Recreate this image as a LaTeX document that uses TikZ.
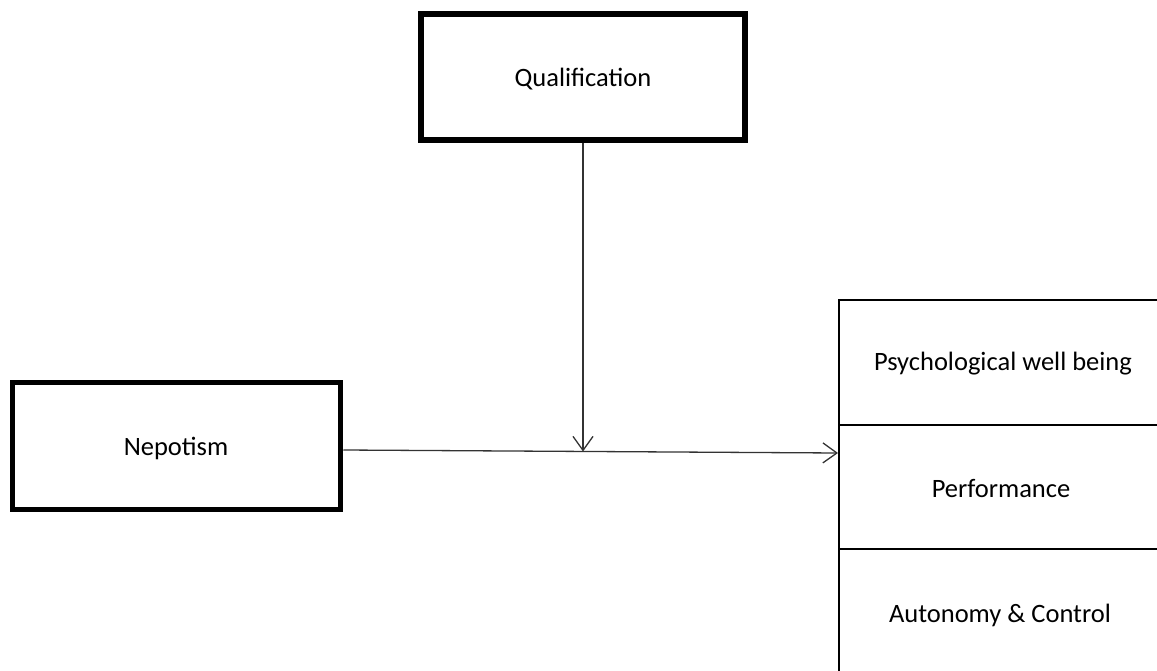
\documentclass[tikz,border=0pt]{standalone}
\usepackage{fontspec}
\setmainfont{Carlito}
\usetikzlibrary{arrows.meta}
\begin{document}
\begin{tikzpicture}[x=1pt,y=-1pt,
  lbl/.style={font=\fontsize{26.5}{30}\selectfont, text=black},
  thickbox/.style={draw=black, line width=5.5pt, fill=white, inner sep=0pt},
  thinbox/.style={draw=black, line width=2pt, inner sep=0pt, minimum width=326pt},
  conn/.style={draw=black!80, line width=1.3pt, -{Straight Barb[length=14pt,width=20pt,line width=1.3pt]}}]
\useasboundingbox (0,0) rectangle (1157,671);
\clip (0,0) rectangle (1157,671);
% Qualification box
\node[thickbox, lbl, minimum width=324pt, minimum height=126pt] (qual) at (583,77) {};
\node[lbl] (qualtxt) at (583,79) {Qualification};
% Nepotism box
\node[thickbox, lbl, minimum width=328pt, minimum height=127pt] (nep) at (176.5,446) {};
\node[lbl] (neptxt) at (176,448) {Nepotism};
% right stack
\node[thinbox, minimum height=125pt] (psybox) at (1002,362.5) {};
\node[thinbox, minimum height=124pt] (perfbox) at (1002,487) {};
\node[thinbox, minimum height=135pt] (autbox) at (1002,616.5) {};
\node[lbl] (psy) at (1003,364) {Psychological well being};
\node[lbl] (perf) at (1001,489) {Performance};
\node[lbl] (aut) at (1000,615) {Autonomy \& Control};
\coordinate (nr) at (nep.east |- 0,450);
\coordinate (target) at (perfbox.west |- 0,453);
\coordinate (meet) at (qual.south |- 0,451.5);
% connectors
\draw[conn] (qual.south) -- (meet);
\draw[conn] (nr) -- (target);
\end{tikzpicture}
\end{document}
